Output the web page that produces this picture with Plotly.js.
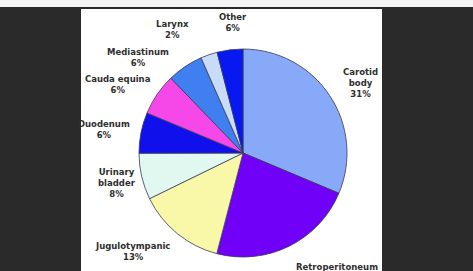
<!DOCTYPE html>
<html>
<head>
<meta charset="utf-8">
<script src="https://cdn.plot.ly/plotly-3.0.1.min.js"></script>
<style>
  html, body { margin: 0; padding: 0; background: #ffffff; }
  #chart { width: 473px; height: 271px; }
</style>
</head>
<body>
<div id="chart"></div>
<script>
// Data
const categories = ['Carotid body', 'Retroperitoneum', 'Jugulotympanic', 'Urinary bladder',
  'Duodenum', 'Cauda equina', 'Mediastinum', 'Larynx', 'Other'];
const shares = [31.3, 22.7, 13.7, 7.2, 6.3, 6.5, 5.6, 2.6, 4.0];
const labelTexts = ['Carotid<br>body<br>31%', 'Retroperitoneum<br>23%', 'Jugulotympanic<br>13%',
  'Urinary<br>bladder<br>8%', 'Duodenum<br>6%', 'Cauda equina<br>6%', 'Mediastinum<br>6%',
  'Larynx<br>2%', 'Other<br>6%'];
const sliceColors = ['#88a8f8', '#7000f8', '#f8f8a8', '#e0f8f0', '#1010ec', '#f648e8',
  '#3f7ff0', '#c8dcf8', '#0818f0'];
// label anchor positions in pixels (x, y) within the 473x271 picture
const labelPos = [[360, 83], [337, 272], [132, 251], [117, 183], [104, 129],
  [118, 85], [138, 57], [172, 29], [233, 23]];

const W = 473, H = 271;
const cx = 243, cy = 153, r = 104;

const trace = {
  type: 'pie',
  labels: categories,
  values: shares,
  sort: false,
  direction: 'clockwise',
  rotation: 0,
  textinfo: 'none',
  hoverinfo: 'label+percent',
  marker: { colors: sliceColors, line: { color: '#3a3a5a', width: 0.8 } },
  domain: { x: [(cx - r) / W, (cx + r) / W], y: [(H - cy - r) / H, (H - cy + r) / H] },
  showlegend: false
};

const annotations = labelTexts.map((t, i) => ({
  text: t,
  xref: 'paper', yref: 'paper',
  x: labelPos[i][0] / W, y: 1 - labelPos[i][1] / H,
  xanchor: 'center', yanchor: 'middle',
  showarrow: false,
  align: 'center',
  font: { family: 'DejaVu Sans', size: 8.5, color: '#2e2e2e', weight: 'bold' }
}));

const layout = {
  width: W, height: H,
  margin: { l: 0, r: 0, t: 0, b: 0 },
  paper_bgcolor: '#2a2a2a',
  shapes: [
    { type: 'rect', xref: 'paper', yref: 'paper', x0: 0, x1: 1, y0: 1 - 7 / H, y1: 1,
      fillcolor: '#f4f4f4', line: { width: 0 }, layer: 'below' },
    { type: 'rect', xref: 'paper', yref: 'paper', x0: 81 / W, x1: 382 / W, y0: 0, y1: 1 - 9 / H,
      fillcolor: '#ffffff', line: { width: 0 }, layer: 'below' }
  ],
  annotations: annotations
};

Plotly.newPlot('chart', [trace], layout, { displayModeBar: false, staticPlot: true });
</script>
</body>
</html>
